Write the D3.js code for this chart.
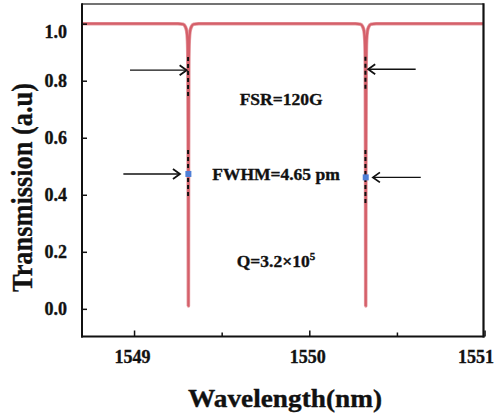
<!DOCTYPE html>
<html>
<head>
<meta charset="utf-8">
<script src="https://cdn.jsdelivr.net/npm/d3@7"></script>
<style>
  html, body { margin: 0; padding: 0; background: #fff; }
  svg { display: block; }
</style>
</head>
<body>
<svg id="chart" width="494" height="415"></svg>
<script>
// ---- data ----
const wavelength = [
  1548.703,
  1549.250, 1549.280, 1549.292, 1549.300, 1549.305, 1549.3075, 1549.309, 1549.310,
  1549.311, 1549.3125, 1549.315, 1549.320, 1549.328, 1549.340, 1549.370,
  1550.262, 1550.292, 1550.304, 1550.312, 1550.317, 1550.3195, 1550.321, 1550.322,
  1550.323, 1550.3245, 1550.327, 1550.332, 1550.340, 1550.352, 1550.382,
  1550.994
];
const transmission = [
  1.0,
  1.0, 0.998, 0.99, 0.975, 0.94, 0.85, 0.5, 0.01,
  0.5, 0.85, 0.94, 0.975, 0.99, 0.998, 1.0,
  1.0, 0.998, 0.99, 0.975, 0.94, 0.85, 0.5, 0.01,
  0.5, 0.85, 0.94, 0.975, 0.99, 0.998, 1.0,
  1.0
];
const xTicks = [1549, 1550, 1551];
const xMinorTicks = [1549.5, 1550.5];
const yTicks = [0.0, 0.2, 0.4, 0.6, 0.8, 1.0];

// annotation data (wavelength / transmission coordinates)
const arrowFromX = [1548.977, 1548.939, 1550.607, 1550.636];
const arrowToX   = [1549.300, 1549.262, 1550.336, 1550.363];
const arrowY     = [0.837, 0.473, 0.840, 0.461];
const dashX      = [1549.310, 1549.310, 1550.322, 1550.322];
const dashTop    = [0.883, 0.557, 0.884, 0.557];
const dashBottom = [0.743, 0.385, 0.767, 0.371];
const dotX = [1549.310, 1550.322];
const dotY = [0.473, 0.461];

// ---- layout ----
const FONT = "'Liberation Serif', 'Times New Roman', 'DejaVu Serif', serif";
const svg = d3.select("#chart");
const mLeft = 82, mRight = 483.5, mTop = 4, mBottom = 336.5;

const x = d3.scaleLinear().domain([1548.703, 1550.994]).range([mLeft, mRight]);
const y = d3.scaleLinear().domain([-0.097, 1.069]).range([mBottom, mTop]);

function styleText(sel, size) {
  sel.attr("font-family", FONT).attr("font-weight", "bold").attr("font-size", size)
    .attr("fill", "#111").attr("stroke", "#111").attr("stroke-width", 0.35)
    .style("font-family", FONT).style("font-weight", "bold");
}

// curve
const pts = wavelength.map((w, i) => [w, transmission[i]]);
const line = d3.line().x(d => x(d[0])).y(d => y(d[1])).curve(d3.curveMonotoneX);
svg.append("path").datum(pts)
  .attr("d", line).attr("fill", "none")
  .attr("stroke", "#e7a0a6").attr("stroke-width", 3.6).attr("stroke-linejoin", "round");
svg.append("path").datum(pts)
  .attr("d", line).attr("fill", "none")
  .attr("stroke", "#d5606a").attr("stroke-width", 2.2).attr("stroke-linejoin", "round");

// dashed markers on dips
svg.append("g").selectAll("line").data(dashX).join("line")
  .attr("x1", d => x(d) - 0.3).attr("x2", d => x(d) - 0.3)
  .attr("y1", (d, i) => y(dashTop[i])).attr("y2", (d, i) => y(dashBottom[i]))
  .attr("stroke", "#111").attr("stroke-width", 2)
  .attr("stroke-dasharray", "4,3");

// blue dots
svg.append("g").selectAll("rect").data(dotX).join("rect")
  .attr("x", d => x(d) - 3).attr("y", (d, i) => y(dotY[i]) - 3)
  .attr("width", 6).attr("height", 6)
  .attr("fill", "#4f7fd6");

// arrows
const arrows = svg.append("g").attr("stroke", "#111").attr("fill", "none").attr("stroke-width", 1.4);
arrowFromX.forEach((fx, i) => {
  const x1 = x(fx), x2 = x(arrowToX[i]), yy = y(arrowY[i]);
  const dir = Math.sign(x2 - x1);
  arrows.append("line").attr("x1", x1).attr("y1", yy).attr("x2", x2).attr("y2", yy);
  arrows.append("path")
    .attr("d", `M${x2 - dir * 7},${yy - 5} L${x2},${yy} L${x2 - dir * 7},${yy + 5}`)
    .attr("stroke-width", 1.8);
});

// annotation texts
svg.append("text").attr("x", x(1549.839)).attr("y", y(0.714))
  .attr("text-anchor", "middle").call(styleText, 17.5).text("FSR=120G");
svg.append("text").attr("x", x(1549.81)).attr("y", y(0.452))
  .attr("text-anchor", "middle").call(styleText, 17.5).text("FWHM=4.65 pm");
const q = svg.append("text").attr("x", x(1549.586)).attr("y", y(0.148)).call(styleText, 17.5);
q.append("tspan").text("Q=3.2\u00D710");
q.append("tspan").attr("font-size", 11).attr("dy", -7).text("5");

// axes
const xAxis = svg.append("g").attr("transform", `translate(0,${mBottom})`)
  .call(d3.axisBottom(x).tickValues(xTicks).tickFormat(d3.format("d"))
    .tickSizeInner(-6).tickSizeOuter(0).tickPadding(14));
xAxis.attr("font-family", FONT);
xAxis.selectAll("text").call(styleText, 18)
  .attr("text-anchor", d => d === 1551 ? "end" : "middle")
  .attr("dx", d => d === 1551 ? 9 : -2);
xAxis.select(".domain").remove();
xAxis.selectAll(".tick line").attr("stroke", "#111").attr("stroke-width", 1.5);

svg.append("g").attr("transform", `translate(0,${mBottom})`)
  .call(d3.axisBottom(x).tickValues(xMinorTicks).tickFormat("").tickSizeInner(-4).tickSizeOuter(0))
  .call(g => g.select(".domain").remove())
  .selectAll(".tick line").attr("stroke", "#111").attr("stroke-width", 1.5);

const yAxis = svg.append("g").attr("transform", `translate(${mLeft},0)`)
  .call(d3.axisLeft(y).tickValues(yTicks).tickFormat(d3.format(".1f"))
    .tickSizeInner(-5).tickSizeOuter(0).tickPadding(15));
yAxis.attr("font-family", FONT);
yAxis.selectAll("text").call(styleText, 18)
  .attr("dy", d => d === 1 ? "0.75em" : "0.32em");
yAxis.select(".domain").remove();
yAxis.selectAll(".tick line").attr("stroke", "#111").attr("stroke-width", 1.5);

// frame
svg.append("line").attr("x1", mLeft).attr("x2", mRight).attr("y1", mTop).attr("y2", mTop)
  .attr("stroke", "#444").attr("stroke-width", 1.5);
svg.append("line").attr("x1", mRight).attr("x2", mRight).attr("y1", mTop - 0.75).attr("y2", mBottom + 1)
  .attr("stroke", "#111").attr("stroke-width", 2.2);
svg.append("line").attr("x1", mLeft).attr("x2", mLeft).attr("y1", mTop - 0.75).attr("y2", mBottom + 1)
  .attr("stroke", "#111").attr("stroke-width", 2);
svg.append("line").attr("x1", mLeft - 1).attr("x2", mRight + 1).attr("y1", mBottom).attr("y2", mBottom)
  .attr("stroke", "#111").attr("stroke-width", 2);

// axis titles
svg.append("text").attr("x", 285).attr("y", 406.5).attr("text-anchor", "middle")
  .call(styleText, 25).attr("textLength", 194).attr("lengthAdjust", "spacingAndGlyphs")
  .text("Wavelength(nm)");
svg.append("text").attr("transform", "translate(32,187.5) rotate(-90)").attr("text-anchor", "middle")
  .call(styleText, 30).attr("textLength", 209).attr("lengthAdjust", "spacingAndGlyphs")
  .text("Transmission (a.u)");
</script>
</body>
</html>
